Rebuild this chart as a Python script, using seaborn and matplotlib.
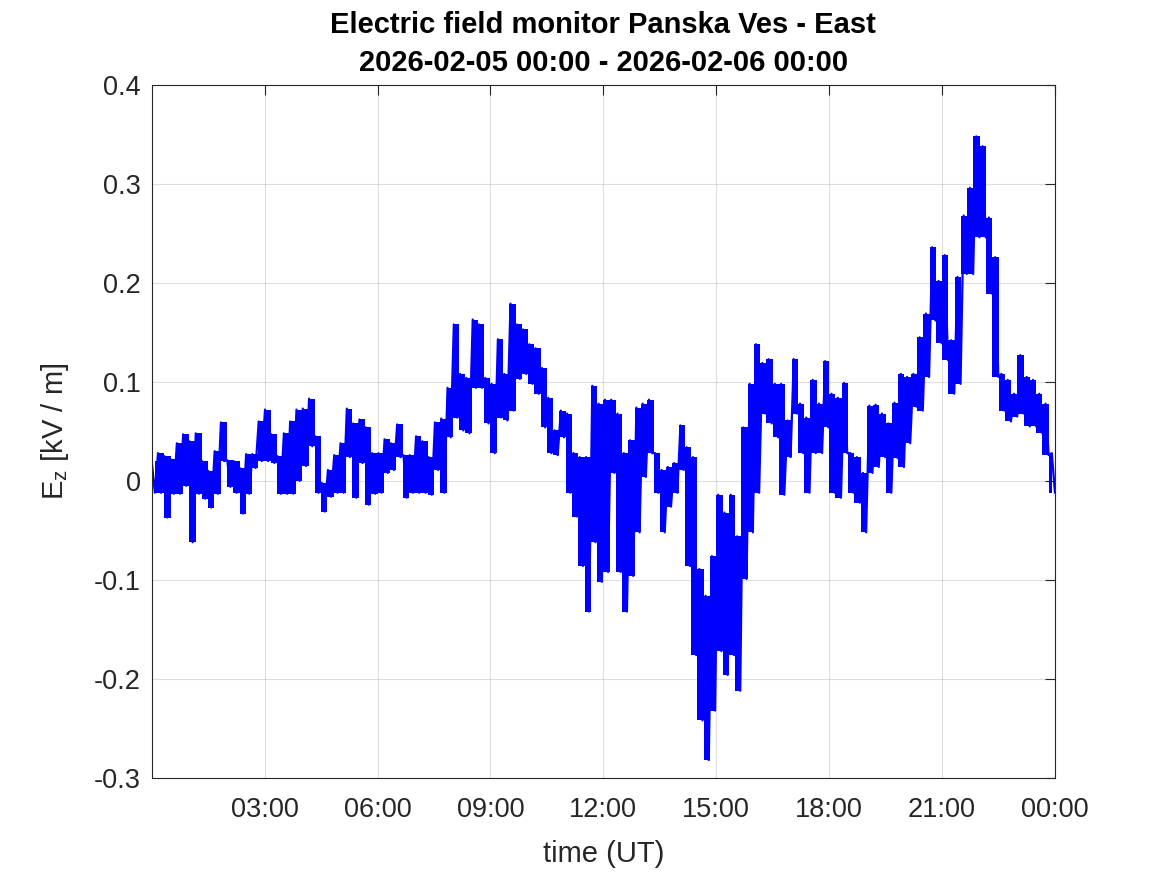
import numpy as np
import pandas as pd
import seaborn as sns
import matplotlib.pyplot as plt

start = "2026-02-05 00:00"
end = "2026-02-06 00:00"

# upper / lower edge of the trace in each 10-minute bin (kV/m), one hour per row
ez_high = [
    0.020, 0.028, 0.025, 0.022, 0.038, 0.047,
    0.040, 0.048, 0.020, 0.010, 0.030, 0.059,
    0.021, 0.020, 0.013, 0.027, 0.027, 0.060,
    0.072, 0.047, 0.025, 0.048, 0.060, 0.072,
    0.073, 0.083, 0.045, -0.002, 0.011, 0.026,
    0.038, 0.073, 0.058, 0.062, 0.054, 0.028,
    0.028, 0.042, 0.038, 0.057, 0.026, 0.026,
    0.045, 0.040, 0.024, 0.059, 0.063, 0.094,
    0.158, 0.108, 0.104, 0.163, 0.158, 0.104,
    0.098, 0.143, 0.108, 0.179, 0.158, 0.153,
    0.138, 0.134, 0.114, 0.084, 0.051, 0.071,
    0.068, 0.028, 0.024, 0.024, 0.096, 0.078,
    0.082, 0.082, 0.068, 0.028, 0.041, 0.074,
    0.078, 0.082, 0.028, 0.011, 0.014, 0.018,
    0.056, 0.034, 0.024, -0.089, -0.116, -0.076,
    -0.014, -0.032, -0.014, -0.056, 0.054, 0.098,
    0.138, 0.119, 0.123, 0.098, 0.098, 0.061,
    0.123, 0.078, 0.064, 0.102, 0.078, 0.121,
    0.088, 0.084, 0.099, 0.028, 0.024, 0.008,
    0.076, 0.077, 0.068, 0.058, 0.079, 0.108,
    0.105, 0.108, 0.145, 0.169, 0.236, 0.202,
    0.228, 0.142, 0.206, 0.268, 0.296, 0.348,
    0.338, 0.266, 0.226, 0.108, 0.102, 0.088,
    0.127, 0.105, 0.102, 0.088, 0.078, 0.028,
]
ez_low = [
    -0.012, -0.012, -0.037, -0.013, -0.013, -0.005,
    -0.062, -0.013, -0.018, -0.027, -0.013, 0.020,
    -0.006, -0.012, -0.033, -0.013, 0.013, 0.020,
    0.020, 0.018, -0.013, -0.013, -0.013, 0.000,
    0.015, 0.035, -0.012, -0.031, -0.016, -0.012,
    -0.012, 0.024, -0.017, 0.018, -0.024, -0.013,
    -0.012, 0.008, 0.011, 0.024, -0.017, -0.012,
    -0.012, -0.012, -0.014, 0.011, -0.012, 0.044,
    0.064, 0.051, 0.048, 0.094, 0.094, 0.058,
    0.028, 0.064, 0.061, 0.071, 0.103, 0.108,
    0.098, 0.088, 0.054, 0.028, 0.026, 0.044,
    -0.012, -0.036, -0.086, -0.132, -0.062, -0.102,
    -0.092, 0.008, -0.092, -0.132, -0.096, -0.052,
    0.004, 0.028, -0.012, -0.052, -0.026, -0.012,
    0.011, -0.086, -0.176, -0.242, -0.282, -0.232,
    -0.172, -0.196, -0.176, -0.212, -0.099, -0.052,
    -0.012, 0.068, 0.058, 0.044, -0.014, 0.024,
    0.068, 0.028, -0.012, 0.028, 0.028, 0.054,
    -0.012, -0.017, 0.028, -0.012, -0.022, -0.052,
    0.008, 0.014, 0.024, -0.012, 0.023, 0.014,
    0.038, 0.075, 0.071, 0.105, 0.162, 0.139,
    0.122, 0.088, 0.098, 0.209, 0.209, 0.246,
    0.246, 0.189, 0.105, 0.071, 0.060, 0.065,
    0.068, 0.055, 0.055, 0.048, 0.026, -0.012,
]

y_ticks = [-0.3, -0.2, -0.1, 0.0, 0.1, 0.2, 0.3, 0.4]
y_tick_labels = ["-0.3", "-0.2", "-0.1", "0", "0.1", "0.2", "0.3", "0.4"]
x_tick_hours = [3, 6, 9, 12, 15, 18, 21, 24]
x_tick_labels = ["03:00", "06:00", "09:00", "12:00", "15:00", "18:00", "21:00", "00:00"]

sns.set_style("white")
plt.rcParams['font.family'] = ['Liberation Sans', 'DejaVu Sans']
plt.rcParams['mathtext.fontset'] = 'custom'
plt.rcParams['mathtext.rm'] = 'Liberation Sans'
plt.rcParams['mathtext.it'] = 'Liberation Sans'

blue = "#0000ff"

# interleave the two edges so the trace zigzags like the raw 1 s record
values = np.column_stack([ez_high, ez_low]).ravel()
times = pd.date_range(start, end, periods=len(values))
df = pd.DataFrame({"time": times, "ez": values})

# bin centres for the filled envelope
bin_times = pd.date_range(start, end, periods=len(ez_high) + 1)
bin_mid = bin_times[:-1] + (bin_times[1] - bin_times[0]) / 2

fig = plt.figure(figsize=(11.67, 8.75), dpi=100)
ax = fig.add_axes([0.13, 0.111, 0.774, 0.792])

ax.fill_between(bin_mid, ez_low, ez_high, step="mid", color=blue, linewidth=0)
sns.lineplot(data=df, x="time", y="ez", color=blue, linewidth=1.6,
             estimator=None, sort=False, ax=ax)

t0 = pd.Timestamp(start)
ax.set_xlim(t0, pd.Timestamp(end))
ax.set_ylim(-0.3, 0.4)
ax.set_xticks([t0 + pd.Timedelta(hours=h) for h in x_tick_hours])
ax.set_xticklabels(x_tick_labels)
ax.set_yticks(y_ticks)
ax.set_yticklabels(y_tick_labels)

axis_color = "#262626"
ax.tick_params(direction="in", length=7, width=0.8, top=True, right=True,
               labelsize=19.5, colors=axis_color)
ax.tick_params(axis="x", pad=14)
ax.tick_params(axis="y", pad=8)
for s in ax.spines.values():
    s.set_color(axis_color)
    s.set_linewidth(0.8)
ax.grid(True, color="#262626", alpha=0.15, linewidth=0.8)

ax.set_xlabel("time (UT)", fontsize=21, color=axis_color, labelpad=12)
ax.set_ylabel(r"E$_{\mathrm{z}}$ [kV / m]", fontsize=21, color=axis_color, labelpad=16)
ax.set_title("Electric field monitor Panska Ves - East\n2026-02-05 00:00 - 2026-02-06 00:00",
             fontsize=21, fontweight="bold", color="black", pad=10, linespacing=1.45)

fig.savefig("out.png", dpi=100)
